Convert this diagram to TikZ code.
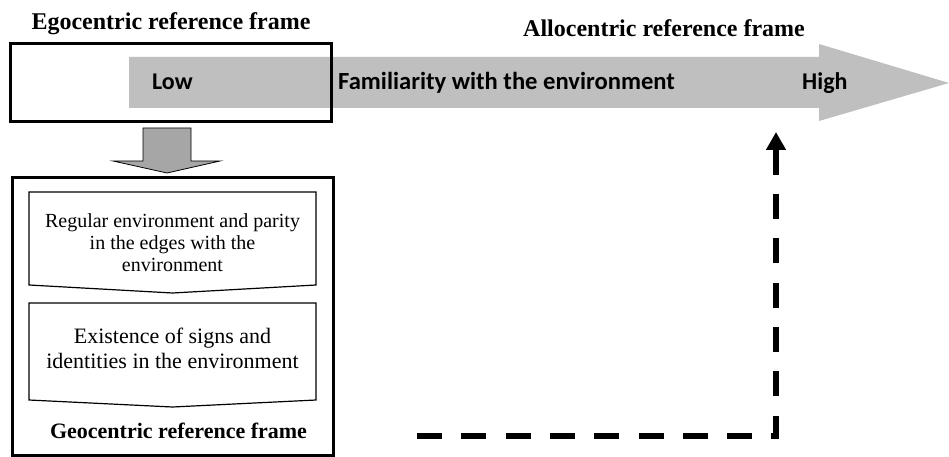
\documentclass[tikz,border=0pt]{standalone}
\usepackage{fontspec}
\setmainfont{Liberation Serif}
\newfontfamily\calfont{Carlito}
\usetikzlibrary{arrows.meta}
\definecolor{bandgray}{HTML}{BFBFBF}
\definecolor{downgray}{HTML}{A6A6A6}
\begin{document}
\begin{tikzpicture}[x=1pt,y=-1pt,
  title/.style={font=\fontsize{24}{28}\selectfont\bfseries, inner sep=0pt, anchor=base},
  band/.style={font=\calfont\fontsize{24}{28}\selectfont\bfseries, inner sep=0pt, anchor=base west},
  frame/.style={draw=black, line width=3pt},
  chevron/.style={draw=black, line width=1.2pt, fill=white},
  txt/.style={align=center, inner sep=0pt}
]
\useasboundingbox (0,0) rectangle (949,457);
% big gray arrow
\fill[bandgray] (129,57) -- (819,57) -- (819,44) -- (949,83) -- (819,121) -- (819,108) -- (129,108) -- cycle;
% titles
\node[title] (ego) at (171,30) {Egocentric reference frame};
\node[title] (allo) at (664,37) {Allocentric reference frame};
% top box
\node[frame, minimum width=321pt, minimum height=78pt, inner sep=0pt] (topbox) at (170.5,83) {};
% band labels
\node[band] (low) at (152,90) {Low};
\node[band, font=\calfont\fontsize{24.6}{28}\selectfont\bfseries] (fam) at (338,90) {Familiarity with the environment};
\node[band] (high) at (802,90) {High};
% down arrow
\draw[fill=downgray, line width=0.8pt, line join=miter] (143,128) -- (191,128) -- (191,161) -- (220,161) -- (167,173) -- (113,161) -- (143,161) -- cycle;
\coordinate (downarrow) at (167,150);
% bottom box
\node[frame, minimum width=321pt, minimum height=278pt, inner sep=0pt] (botbox) at (172.5,316) {};
% chevrons
\draw[chevron] (29,192) -- (316,192) -- (316,285) -- (172.5,293) -- (29,285) -- cycle;
\draw[chevron] (29,303) -- (316,303) -- (316,400) -- (172.5,407) -- (29,400) -- cycle;
\node[txt, font=\fontsize{20}{22}\selectfont] (t1) at (172.5,243) {Regular environment and parity\\in the edges with the\\environment};
\node[txt, font=\fontsize{22}{25}\selectfont] (t2) at (172.5,348) {Existence of signs and\\identities in the environment};
\node[font=\fontsize{22}{26}\selectfont\bfseries, inner sep=0pt, anchor=base] (geo) at (178.5,438) {Geocentric reference frame};
% dashed connector
\coordinate (dstart) at (417,436);
\coordinate (dtip) at (776,132);
\draw[line width=6.5pt, dash pattern=on 25pt off 19.3pt, -{Triangle[width=19pt,length=18pt]}] (dstart) -- (dstart -| dtip) -- (dtip);
\end{tikzpicture}
\end{document}
